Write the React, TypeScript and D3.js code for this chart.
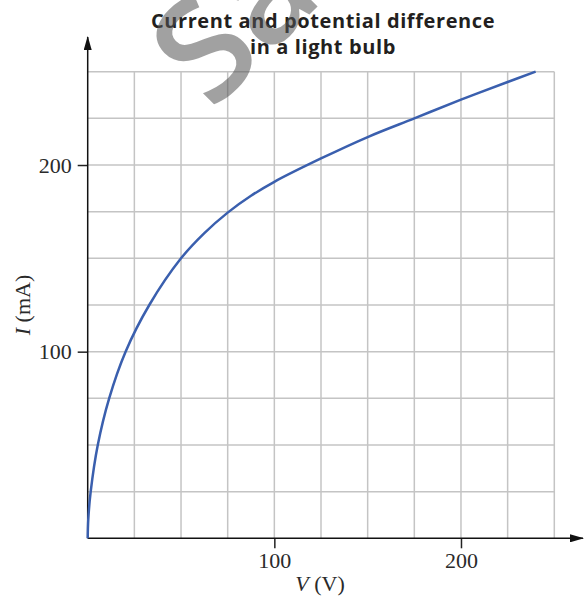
import { useEffect, useRef } from 'react';
import * as d3 from 'd3';

// I-V curve
const voltage = [0, 0.3, 1.6, 5.4, 11.5, 20.3, 33, 50, 62.5, 75, 87.5, 100, 125, 150, 175, 200, 225, 240];
const current = [0, 10, 25, 50, 75, 100, 125, 150, 163.5, 174.5, 183.5, 191, 203.5, 215, 225, 235, 244.5, 250];
const gridValues = [0, 25, 50, 75, 100, 125, 150, 175, 200, 225, 250];
const tickValues = [100, 200];
const titleLines = ['Current and potential difference', 'in a light bulb'];

const W = 585;
const H = 597;

export default function App() {
  const ref = useRef<SVGSVGElement>(null);

  useEffect(() => {
    const svg = d3.select(ref.current);
    svg.selectAll('*').remove();

    const x = d3.scaleLinear().domain([0, 250]).range([87.7, 554.3]);
    const y = d3.scaleLinear().domain([0, 250]).range([538.3, 71.7]);

    const defs = svg.append('defs');
    defs.append('marker')
      .attr('id', 'arrow')
      .attr('viewBox', '0 0 14 8')
      .attr('refX', 13).attr('refY', 4)
      .attr('markerWidth', 14).attr('markerHeight', 8)
      .attr('markerUnits', 'userSpaceOnUse')
      .attr('orient', 'auto')
      .append('path')
      .attr('d', 'M0,0 L14,4 L0,8 Z')
      .attr('fill', '#111');

    // grid
    const grid = svg.append('g').attr('stroke', '#c4c4c4').attr('stroke-width', 1.5);
    grid.selectAll('line.v').data(gridValues.slice(1)).join('line')
      .attr('class', 'v')
      .attr('x1', d => x(d)).attr('x2', d => x(d))
      .attr('y1', y(0)).attr('y2', y(250));
    grid.selectAll('line.h').data(gridValues.slice(1)).join('line')
      .attr('class', 'h')
      .attr('x1', x(0)).attr('x2', x(250))
      .attr('y1', d => y(d)).attr('y2', d => y(d));

    // axes
    const xAxis = svg.append('g')
      .attr('transform', `translate(0,${y(0)})`)
      .call(d3.axisBottom(x).tickValues(tickValues).tickSize(10).tickSizeOuter(0));
    const yAxis = svg.append('g')
      .attr('transform', `translate(${x(0)},0)`)
      .call(d3.axisLeft(y).tickValues(tickValues).tickSize(10).tickPadding(6).tickSizeOuter(0));
    [xAxis, yAxis].forEach(a => {
      a.select('.domain').remove();
      a.selectAll('line').attr('stroke', '#222').attr('stroke-width', 1.5);
      a.selectAll('text')
        .attr('font-family', '"Liberation Serif", serif')
        .attr('font-size', 22)
        .attr('fill', '#2a2a2a');
    });
    xAxis.selectAll('text').attr('dy', null).attr('y', 30);

    svg.append('line')
      .attr('x1', x(0)).attr('x2', 583)
      .attr('y1', y(0)).attr('y2', y(0))
      .attr('stroke', '#111').attr('stroke-width', 1.5)
      .attr('marker-end', 'url(#arrow)');
    svg.append('line')
      .attr('x1', x(0)).attr('x2', x(0))
      .attr('y1', y(0)).attr('y2', 37)
      .attr('stroke', '#111').attr('stroke-width', 1.5)
      .attr('marker-end', 'url(#arrow)');

    // curve
    const line = d3.line<number>()
      .x(i => x(voltage[i]))
      .y(i => y(current[i]))
      .curve(d3.curveCatmullRom.alpha(0.5));
    svg.append('path')
      .datum(d3.range(voltage.length))
      .attr('d', line)
      .attr('fill', 'none')
      .attr('stroke', '#3a5fae')
      .attr('stroke-width', 2.5);

    // axis labels
    const xl = svg.append('text')
      .attr('x', 320).attr('y', 591)
      .attr('text-anchor', 'middle')
      .attr('font-family', '"Liberation Serif", serif')
      .attr('font-size', 22)
      .attr('fill', '#2a2a2a');
    xl.append('tspan').attr('font-style', 'italic').text('V');
    xl.append('tspan').text(' (V)');

    const yl = svg.append('text')
      .attr('transform', 'translate(30,305) rotate(-90)')
      .attr('text-anchor', 'middle')
      .attr('font-family', '"Liberation Serif", serif')
      .attr('font-size', 22)
      .attr('fill', '#2a2a2a');
    yl.append('tspan').attr('font-style', 'italic').text('I');
    yl.append('tspan').text(' (mA)');

    // title
    svg.append('g')
      .selectAll('text').data(titleLines).join('text')
      .attr('x', 323)
      .attr('y', (_, i) => 27.5 + i * 26)
      .attr('text-anchor', 'middle')
      .attr('font-family', '"Open Sans", sans-serif')
      .attr('font-weight', 700)
      .attr('font-size', 20)
      .attr('letter-spacing', 0.6)
      .attr('fill', '#231f20')
      .text(d => d);

    // watermark
    svg.append('text')
      .attr('transform', 'translate(212,112) rotate(-45)')
      .attr('font-family', '"Open Sans", sans-serif')
      .attr('font-weight', 600)
      .attr('font-size', 142)
      .attr('fill', '#555')
      .attr('opacity', 0.55)
      .text('Sample');
  }, []);

  return (
    <svg
      ref={ref}
      width={W}
      height={H}
      style={{ position: 'absolute', left: 0, top: 0, background: '#fff' }}
    />
  );
}
